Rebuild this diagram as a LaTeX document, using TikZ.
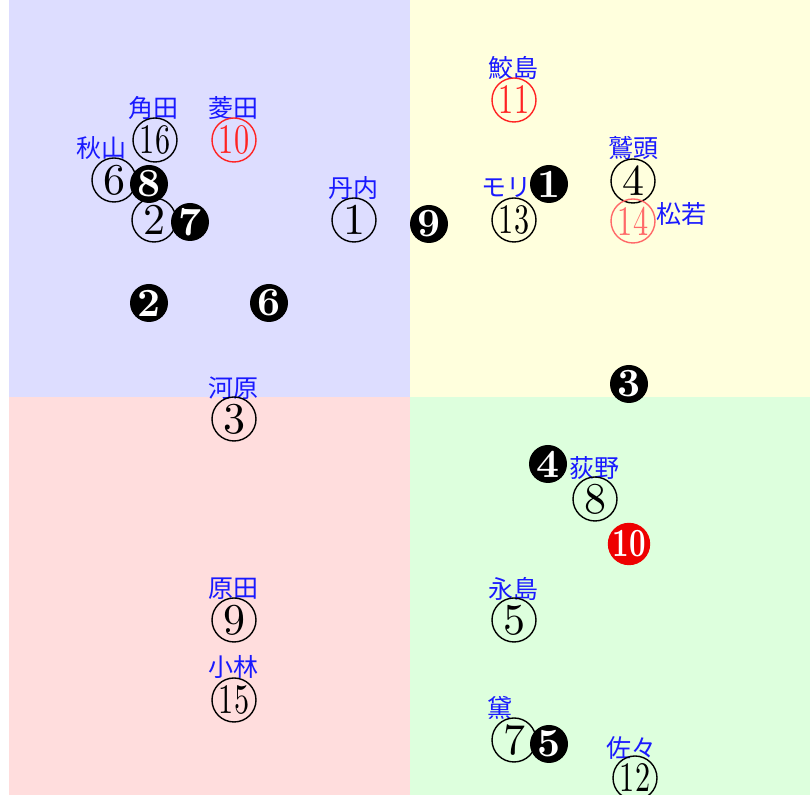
\documentclass[tikz,border=0pt]{standalone}
\usepackage{fontspec}
\usepackage{graphicx}
\newfontfamily\cjk{Noto Sans CJK JP}
\newfontfamily\numf{lmroman10-regular}[Extension=.otf, BoldFont=lmroman10-bold]
\usetikzlibrary{positioning}
\definecolor{qblue}{RGB}{221,221,255}
\definecolor{qyellow}{RGB}{255,255,221}
\definecolor{qred}{RGB}{255,221,221}
\definecolor{qgreen}{RGB}{221,255,221}
\definecolor{lblue}{RGB}{25,25,255}
\definecolor{ored}{RGB}{255,35,35}
\definecolor{opink}{RGB}{255,105,105}
\definecolor{fred}{RGB}{238,0,0}
\newcommand{\dd}[1]{\scalebox{0.72}[1]{\fontsize{21}{21}\selectfont #1}}
\tikzset{
  pnum/.style={circle, draw=black, line width=0.7pt, minimum size=22pt, inner sep=0pt, font=\numf\fontsize{22}{22}\selectfont},
  pred/.style={pnum, draw=ored, text=ored},
  ppink/.style={pnum, draw=opink, text=opink},
  bnum/.style={circle, fill=black, text=white, minimum size=19pt, inner sep=0pt, font=\numf\fontsize{20}{20}\selectfont\bfseries},
  bred/.style={bnum, fill=fred},
  plab/.style={font=\cjk\fontsize{12.5}{12.5}\selectfont, text=lblue, inner sep=0pt},
}

\begin{document}
\begin{tikzpicture}[x=0.5pt, y=-0.5pt]
  \useasboundingbox (0,0) rectangle (810,795);
  \clip (0,0) rectangle (810,795);
  \fill[qblue] (9,0) rectangle (410,397);
  \fill[qyellow] (410,0) rectangle (810,397);
  \fill[qred] (9,397) rectangle (410,795);
  \fill[qgreen] (410,397) rectangle (810,795);
  % names
  \node[plab] (l16) at (153,108) {角田};
  \node[plab] (l10) at (233,108) {菱田};
  \node[plab] (l6) at (101,148) {秋山};
  \node[plab] (l1) at (353,188) {丹内};
  \node[plab] (l11) at (513,68) {鮫島};
  \node[plab] (l13) at (506,188) {モリ};
  \node[plab] (l4) at (633,148) {鷲頭};
  \node[plab] (l14) at (681,214) {松若};
  \node[plab] (l3) at (233,388) {河原};
  \node[plab] (l8) at (594,468) {荻野};
  \node[plab] (l9) at (233,589) {原田};
  \node[plab] (l15) at (233,667) {小林};
  \node[plab] (l5) at (513,589) {永島};
  \node[plab] (l7) at (500,708) {黛};
  \node[plab] (l12) at (631,748) {佐々};
  % players
  \node[pnum] (p16) at (155,140) {\dd{16}};
  \node[pred] (p10) at (234,140) {\dd{10}};
  \node[pnum] (p6) at (114,180) {6};
  \node[pnum] (p2) at (154,220) {2};
  \node[pnum] (p1) at (354,220) {1};
  \node[pred] (p11) at (514,100) {\dd{11}};
  \node[pnum] (p13) at (514,220) {\dd{13}};
  \node[pnum] (p4) at (633,181) {4};
  \node[ppink] (p14) at (633,221) {\dd{14}};
  \node[pnum] (p3) at (234,419) {3};
  \node[pnum] (p8) at (595,499) {8};
  \node[pnum] (p9) at (234,620) {9};
  \node[pnum] (p15) at (234,700) {\dd{15}};
  \node[pnum] (p5) at (514,620) {5};
  \node[pnum] (p7) at (514,740) {7};
  \node[pnum] (p12) at (635,778) {\dd{12}};
  % markers
  \node[bnum] (m1) at (549,184) {1};
  \node[bnum] (m2) at (149,303) {2};
  \node[bnum] (m3) at (629,384) {3};
  \node[bnum] (m4) at (548,464) {4};
  \node[bnum] (m5) at (549,744) {5};
  \node[bnum] (m6) at (269,303) {6};
  \node[bnum] (m7) at (190,222) {7};
  \node[bnum] (m8) at (149,184) {8};
  \node[bnum] (m9) at (429,224) {9};
  \node[bred] (m10) at (629,544) {\scalebox{0.72}[1]{10}};
\end{tikzpicture}
\end{document}
